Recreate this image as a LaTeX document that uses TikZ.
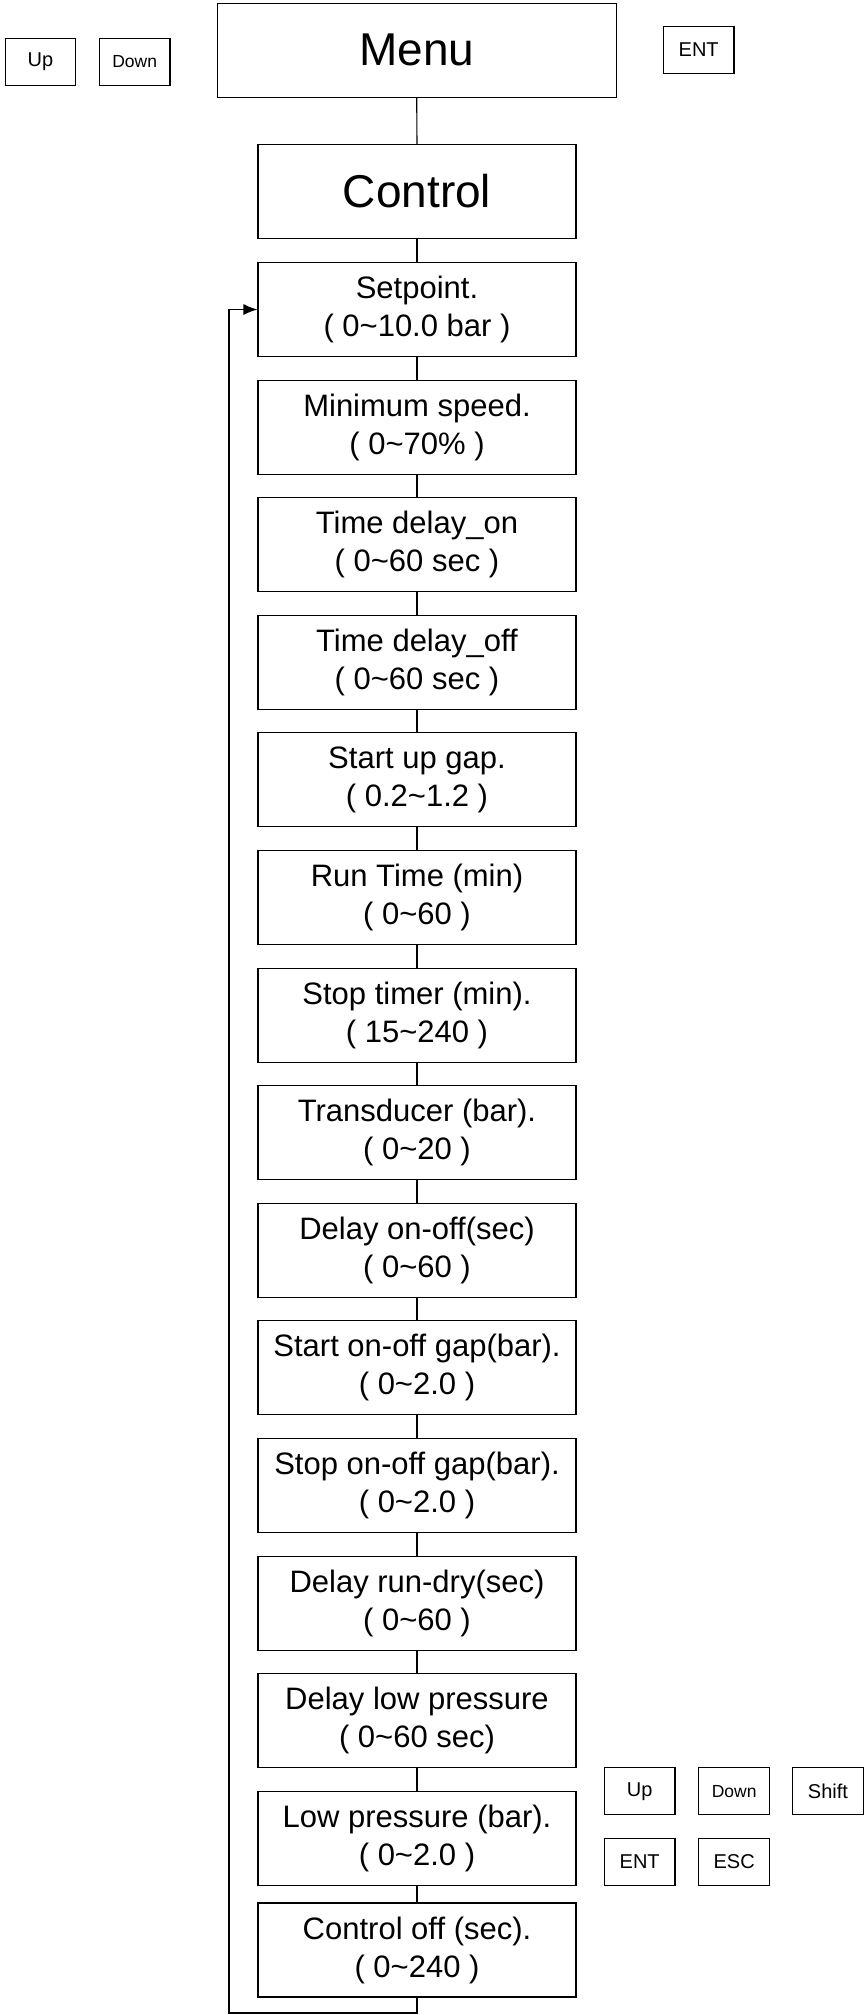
\documentclass[tikz,border=0pt]{standalone}
\usepackage{fontspec}
\setmainfont{Liberation Sans}
\usetikzlibrary{arrows.meta}

\tikzset{every picture/.style={line width=0.55pt}}
\tikzset{
  parambox/.style={draw, minimum width=159pt, minimum height=47pt, inner sep=0pt, align=center, font=\fontsize{15.5}{19}\selectfont},
  titlebox/.style={draw, minimum height=47pt, inner sep=0pt, font=\fontsize{23}{27}\selectfont},
  keybox/.style={draw, minimum width=35.3pt, minimum height=23.5pt, inner sep=0pt, font=\fontsize{10}{12}\selectfont},
  looparrow/.style={-{Latex[length=7pt,width=5.5pt]}},
}

\begin{document}
\begin{tikzpicture}[x=0.5pt,y=0.5pt,yscale=-1,xscale=1]
\useasboundingbox (0,0) rectangle (863,2015);

%Keys at the top
\node [keybox] (upA) at (40.5,62) {Up};
\node [keybox, font=\fontsize{8.75}{10}\selectfont] (downA) at (134.7,62) {Down};
\node [keybox] (entA) at (698.7,50) {ENT};

%Shape: Rectangle [menu]
\node [titlebox, minimum width=199.4pt] (menu) at (416.7,50.3) {Menu};
%Shape: Rectangle [control]
\node [titlebox, minimum width=159pt] (control) at (417,191.4) {Control};

% Parameter boxes
\node [parambox] (set) at (417,309.5) {Setpoint.\\( 0\textasciitilde10.0 bar )};
\node [parambox] (minspd) at (417,427.1) {Minimum speed.\\( 0\textasciitilde70\% )};
\node [parambox] (tdon) at (417,544.7) {Time delay\_on\\( 0\textasciitilde60 sec )};
\node [parambox] (tdoff) at (417,662.3) {Time delay\_off\\( 0\textasciitilde60 sec )};
\node [parambox] (sugap) at (417,779.9) {Start up gap.\\( 0.2\textasciitilde1.2 )};
\node [parambox] (runtm) at (417,897.5) {Run Time (min)\\( 0\textasciitilde60 )};
\node [parambox] (stoptm) at (417,1015.1) {Stop timer (min).\\( 15\textasciitilde240 )};
\node [parambox] (trans) at (417,1132.7) {Transducer (bar).\\( 0\textasciitilde20 )};
\node [parambox] (dlyoo) at (417,1250.3) {Delay on-off(sec)\\( 0\textasciitilde60 )};
\node [parambox] (startoo) at (417,1367.9) {Start on-off gap(bar).\\( 0\textasciitilde2.0 )};
\node [parambox] (stopoo) at (417,1485.5) {Stop on-off gap(bar).\\( 0\textasciitilde2.0 )};
\node [parambox] (dlydry) at (417,1603.1) {Delay run-dry(sec)\\( 0\textasciitilde60 )};
\node [parambox] (dlylow) at (417,1720.7) {Delay low pressure\\( 0\textasciitilde60 sec)};
\node [parambox] (lowp) at (417,1838.3) {Low pressure (bar).\\( 0\textasciitilde2.0 )};
\node [parambox] (ctloff) at (417,1950) {Control off (sec).\\( 0\textasciitilde240 )};

%Keys at the bottom
\node [keybox] (upB) at (639.7,1791.2) {Up};
\node [keybox, font=\fontsize{8.75}{10}\selectfont] (downB) at (734.2,1791.2) {Down};
\node [keybox] (shiftB) at (828,1791.2) {Shift};
\node [keybox] (entB) at (639.7,1861.7) {ENT};
\node [keybox] (escB) at (734.2,1861.7) {ESC};

%Straight Lines
\draw (menu.south) -- (control.north);
\draw (control.south) -- (set.north);
\draw (set.south) -- (minspd.north);
\draw (minspd.south) -- (tdon.north);
\draw (tdon.south) -- (tdoff.north);
\draw (tdoff.south) -- (sugap.north);
\draw (sugap.south) -- (runtm.north);
\draw (runtm.south) -- (stoptm.north);
\draw (stoptm.south) -- (trans.north);
\draw (trans.south) -- (dlyoo.north);
\draw (dlyoo.south) -- (startoo.north);
\draw (startoo.south) -- (stopoo.north);
\draw (stopoo.south) -- (dlydry.north);
\draw (dlydry.south) -- (dlylow.north);
\draw (dlylow.south) -- (lowp.north);
\draw (lowp.south) -- (ctloff.north);

%Return line back to the first box
\coordinate (loopR) at (417,2013);
\coordinate (loopL) at (229,2013);
\draw [looparrow] (ctloff.south) -- (loopR) -- (loopL) |- (set.west);

\end{tikzpicture}
\end{document}
